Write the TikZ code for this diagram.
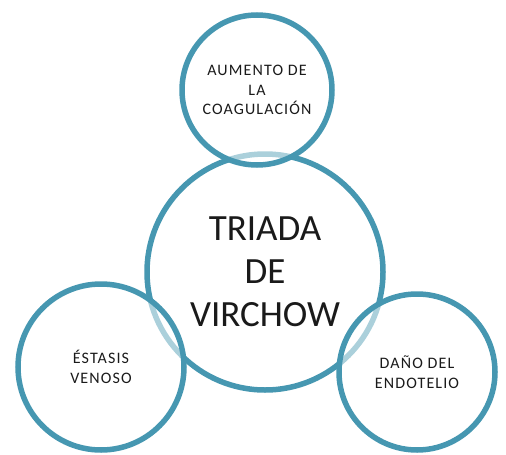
\documentclass[tikz,border=0pt]{standalone}
\usepackage{fontspec}
\setmainfont{Carlito}
\newfontfamily\smallfnt[LetterSpace=7]{Carlito}
\definecolor{teal}{HTML}{4697B1}
\definecolor{txt}{HTML}{1A1A1A}
\begin{document}
\begin{tikzpicture}[x=1pt,y=-1pt,
  ring/.style={circle,draw=teal,line width=5.5pt,fill=white,inner sep=0pt,text=txt},
  sub/.style={ring,fill opacity=0.55,text opacity=1,align=center,
    font=\smallfnt\fontsize{16}{19.5}\selectfont},
  big/.style={ring,align=center,font=\fontsize{37}{43}\selectfont}]
\useasboundingbox (0,0) rectangle (506,455);
\node[big,minimum size=236pt] (triada) at (265,272) {TRIADA\\DE\\VIRCHOW};
\node[sub,minimum size=150pt] (coag) at (257,90) {AUMENTO DE\\LA\\COAGULACIÓN};
\node[sub,minimum size=166pt] (estasis) at (101,367) {ÉSTASIS\\VENOSO};
\node[sub,minimum size=156pt] (dano) at (417,372) {DAÑO DEL\\ENDOTELIO};
\end{tikzpicture}
\end{document}
